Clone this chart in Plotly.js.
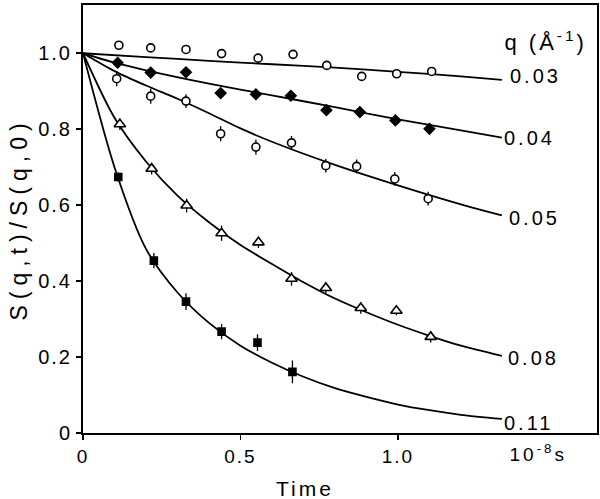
<!DOCTYPE html>
<html>
<head>
<meta charset="utf-8">
<script src="https://cdn.plot.ly/plotly-3.0.1.min.js"></script>
<style>
html,body{margin:0;padding:0;background:#fff;}
#chart{width:600px;height:499px;}
#chart .xtick text, #chart .ytick text{letter-spacing:2px;}
#chart .ytitle{letter-spacing:6px;}
#chart .annotation-text{letter-spacing:3px;}
</style>
</head>
<body>
<div id="chart"></div>
<script>
// ---- data ----
var qLabels = ["0.03", "0.04", "0.05", "0.08", "0.11"];

var t03 = [0.114, 0.215, 0.327, 0.440, 0.556, 0.667, 0.774, 0.885, 0.996, 1.107];
var v03 = [1.021, 1.014, 1.010, 0.999, 0.987, 0.997, 0.968, 0.939, 0.946, 0.952];

var t04 = [0.110, 0.215, 0.327, 0.437, 0.549, 0.660, 0.773, 0.879, 0.992, 1.100];
var v04 = [0.975, 0.949, 0.950, 0.895, 0.892, 0.888, 0.850, 0.845, 0.823, 0.801];
var e04 = [0.010, 0.010, 0.012, 0.012, 0.010, 0.010, 0.010, 0.010, 0.010, 0.010];

var t05 = [0.107, 0.215, 0.327, 0.437, 0.549, 0.662, 0.771, 0.869, 0.990, 1.096];
var v05 = [0.933, 0.887, 0.874, 0.788, 0.753, 0.764, 0.704, 0.702, 0.669, 0.617];
var e05 = [0.020, 0.020, 0.018, 0.020, 0.020, 0.018, 0.018, 0.018, 0.018, 0.018];

var t08 = [0.117, 0.218, 0.329, 0.440, 0.557, 0.662, 0.771, 0.882, 0.995, 1.104];
var v08 = [0.813, 0.696, 0.599, 0.526, 0.502, 0.406, 0.382, 0.329, 0.322, 0.253];
var e08 = [0.015, 0.015, 0.018, 0.020, 0.015, 0.018, 0.015, 0.015, 0.012, 0.015];

var t11 = [0.112, 0.225, 0.327, 0.440, 0.554, 0.665];
var v11 = [0.674, 0.454, 0.346, 0.267, 0.238, 0.161];
var e11 = [0.012, 0.020, 0.022, 0.020, 0.022, 0.030];

// fitted curves
var ct03 = [0, 0.2, 0.4, 0.6, 0.8, 1.0, 1.2, 1.33];
var cv03 = [1.0, 0.990, 0.980, 0.971, 0.962, 0.951, 0.939, 0.930];

var ct04 = [0, 0.1, 0.2, 0.4, 0.6, 0.8, 1.0, 1.2, 1.33];
var cv04 = [1.0, 0.975, 0.955, 0.920, 0.889, 0.858, 0.826, 0.797, 0.778];

var ct05 = [0, 0.1, 0.2, 0.3, 0.4, 0.5, 0.6, 0.8, 1.0, 1.2, 1.33];
var cv05 = [1.0, 0.953, 0.915, 0.880, 0.842, 0.802, 0.767, 0.706, 0.652, 0.602, 0.573];

var ct08 = [0, 0.1, 0.2, 0.3, 0.4, 0.5, 0.6, 0.7, 0.8, 0.9, 1.0, 1.1, 1.2, 1.33];
var cv08 = [1.0, 0.830, 0.715, 0.625, 0.555, 0.495, 0.445, 0.397, 0.354, 0.318, 0.285, 0.256, 0.230, 0.203];

var ct11 = [0, 0.1, 0.2, 0.3, 0.4, 0.5, 0.6, 0.7, 0.8, 0.9, 1.0, 1.1, 1.2, 1.33];
var cv11 = [1.0, 0.700, 0.485, 0.370, 0.290, 0.230, 0.185, 0.148, 0.118, 0.095, 0.075, 0.060, 0.048, 0.037];

// label anchor positions (x, y in data units) for the q labels
var labelX = [1.368, 1.349, 1.365, 1.362, 1.349];
var labelY = [0.939, 0.778, 0.567, 0.198, 0.026];

var yTickVals = [0, 0.2, 0.4, 0.6, 0.8, 1.0];
var yTickText = ["0", "0.2", "0.4", "0.6", "0.8", "1.0"];
var xTickVals = [0, 0.5, 1.0];
var xTickText = ["0", "0.5", "1.0"];

// ---- drawing ----
var FONT = "Liberation Sans, Arial, Helvetica, sans-serif";
function curve(x, y) {
  return {x: x, y: y, type: "scatter", mode: "lines", hoverinfo: "skip",
          line: {color: "#000", width: 1.8, shape: "spline", smoothing: 0.8}, showlegend: false};
}
function pts(x, y, err, symbol, fill, size) {
  var tr = {x: x, y: y, type: "scatter", mode: "markers", showlegend: false,
            marker: {symbol: symbol, size: size, color: fill, line: {color: "#000", width: 1.6}}};
  if (err) tr.error_y = {type: "data", array: err, visible: true, color: "#000", thickness: 1.3, width: 0};
  return tr;
}

var data = [
  curve(ct03, cv03), curve(ct04, cv04), curve(ct05, cv05), curve(ct08, cv08), curve(ct11, cv11),
  pts(t03, v03, null, "circle", "#fff", 8),
  pts(t04, v04, e04, "diamond", "#000", 8),
  pts(t05, v05, e05, "circle", "#fff", 8),
  pts(t08, v08, e08, "triangle-up", "#fff", 10),
  pts(t11, v11, e11, "square", "#000", 7)
];

var annotations = [];
for (var i = 0; i < qLabels.length; i++) {
  annotations.push({x: labelX[i], y: labelY[i], xref: "x", yref: "y", text: qLabels[i],
    showarrow: false, xanchor: "left", yanchor: "middle", font: {family: FONT, size: 20, color: "#000"}});
}
annotations.push({x: 0.9, y: 0.915, xref: "paper", yref: "paper", text: "q (Å<sup>-1</sup>)",
  showarrow: false, xanchor: "center", yanchor: "middle", font: {family: FONT, size: 22, color: "#000"}});
annotations.push({x: 0.885, y: -0.047, xref: "paper", yref: "paper", text: "10<sup>-8</sup>s",
  showarrow: false, xanchor: "center", yanchor: "middle", font: {family: FONT, size: 19, color: "#000"}});
annotations.push({x: 0.705, y: -0.13, xref: "x", yref: "paper", text: "Time",
  showarrow: false, xanchor: "center", yanchor: "middle", font: {family: FONT, size: 21, color: "#000"}});

var layout = {
  width: 600, height: 499,
  margin: {l: 83, r: 3, t: 5, b: 66},
  paper_bgcolor: "#fff", plot_bgcolor: "#fff",
  font: {family: FONT, size: 20, color: "#000"},
  xaxis: {range: [0, 1.632], tickvals: xTickVals, ticktext: xTickText,
          showgrid: false, zeroline: false, showline: true, mirror: true, linecolor: "#000", linewidth: 2,
          ticks: "outside", ticklen: 5, tickwidth: 1.5, tickcolor: "#000",
          tickfont: {family: FONT, size: 19}},
  yaxis: {range: [0, 1.127], tickvals: yTickVals, ticktext: yTickText,
          showgrid: false, zeroline: false, showline: true, mirror: true, linecolor: "#000", linewidth: 2,
          ticks: "outside", ticklen: 5, tickwidth: 1.5, tickcolor: "#000",
          tickfont: {family: FONT, size: 20},
          title: {text: "S(q,t)/S(q,0)", font: {family: FONT, size: 23}, standoff: 10}},
  annotations: annotations
};

Plotly.newPlot("chart", data, layout, {displayModeBar: false, staticPlot: true});
</script>
</body>
</html>
